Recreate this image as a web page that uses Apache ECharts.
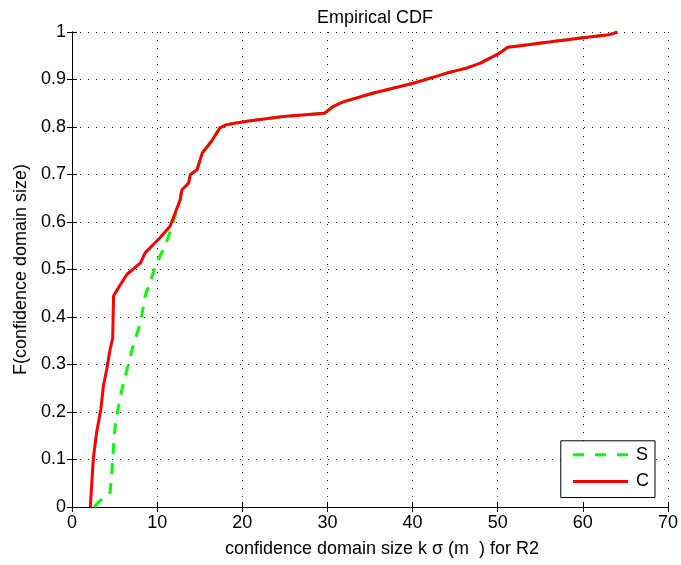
<!DOCTYPE html>
<html>
<head>
<meta charset="utf-8">
<script src="https://cdn.jsdelivr.net/npm/echarts@6/dist/echarts.min.js"></script>
<style>html,body{margin:0;padding:0;background:#fff;}#c{width:681px;height:565px;}</style>
</head>
<body>
<div id="c"></div>
<script>
var xTicks = [0, 10, 20, 30, 40, 50, 60, 70];
var yTicks = [0, 0.1, 0.2, 0.3, 0.4, 0.5, 0.6, 0.7, 0.8, 0.9, 1];

var cX = [2.15,2.40,2.54,2.89,3.39,3.69,4.08,4.48,4.78,4.88,5.47,6.46,8.05,8.59,10.33,11.52,12.11,12.71,12.91,13.70,13.90,14.69,15.29,16.38,17.37,18.16,20.54,24.80,29.66,30.65,31.84,35.31,40.07,43.94,46.32,47.90,50.18,51.17,52.17,56.03,60.00,63.07,64.06];
var cY = [0,0.073,0.108,0.157,0.206,0.255,0.29,0.332,0.356,0.444,0.462,0.49,0.514,0.535,0.567,0.591,0.619,0.647,0.668,0.682,0.70,0.71,0.745,0.77,0.798,0.805,0.812,0.822,0.829,0.843,0.853,0.871,0.892,0.913,0.924,0.934,0.955,0.968,0.970,0.979,0.988,0.994,1.0];

var sX = [2.60,3.29,4.48,4.68,4.88,5.08,5.47,5.87,6.46,7.06,7.65,8.05,8.59,9.14,9.73,10.33,10.92,11.52,12.11,12.71,12.91,13.70,13.90,14.69,15.29,16.38,17.37,18.16,20.54,24.80,29.66,30.65,31.84,35.31,40.07,43.94,46.32,47.90,50.18,51.17,52.17,56.03,60.00,63.07,64.06];
var sY = [0,0.013,0.031,0.073,0.129,0.171,0.213,0.248,0.29,0.332,0.367,0.388,0.444,0.472,0.504,0.528,0.549,0.58,0.612,0.647,0.668,0.682,0.70,0.71,0.745,0.77,0.798,0.805,0.812,0.822,0.829,0.843,0.853,0.871,0.892,0.913,0.924,0.934,0.955,0.968,0.970,0.979,0.988,0.994,1.0];

function pairs(xs, ys) { return xs.map(function (x, i) { return [x, ys[i]]; }); }

var FONT = 'Liberation Sans, Arial, sans-serif';
var FS = 18;
var chart = echarts.init(document.getElementById('c'), null, {renderer: 'canvas'});

var gridLine = {show: true, lineStyle: {color: '#222', type: [1, 7], width: 1}};
var axisLine = {show: true, lineStyle: {color: '#000', width: 1}};
var tick = {show: true, inside: true, length: 5, lineStyle: {color: '#000'}};

chart.setOption({
  animation: false,
  backgroundColor: '#fff',
  title: {
    text: 'Empirical CDF', left: 370, top: 4, textAlign: 'center',
    textStyle: {fontFamily: FONT, fontSize: FS, fontWeight: 'normal', color: '#000'}
  },
  grid: {left: 72, right: 12.5, top: 32, bottom: 58, containLabel: false},
  xAxis: [{
    type: 'value', min: 0, max: 70, interval: 10, position: 'bottom',
    name: 'confidence domain size k σ (m  ) for R2', nameLocation: 'middle', nameGap: 33,
    nameTextStyle: {fontFamily: FONT, fontSize: FS, color: '#000', padding: [0, 0, 0, 24]},
    axisLine: axisLine, axisTick: tick, splitLine: gridLine,
    axisLabel: {fontFamily: FONT, fontSize: FS, color: '#000', margin: 7,
      formatter: function (v) { return xTicks.indexOf(v) >= 0 ? String(v) : ''; }}
  }, {
    type: 'value', min: 0, max: 70, interval: 10, position: 'top',
    axisLine: axisLine, axisTick: tick, splitLine: {show: false}, axisLabel: {show: false}
  }],
  yAxis: [{
    type: 'value', min: 0, max: 1, interval: 0.1, position: 'left',
    name: 'F(confidence domain size)', nameLocation: 'middle', nameGap: 37, nameRotate: 90,
    nameTextStyle: {fontFamily: FONT, fontSize: FS, color: '#000'},
    axisLine: axisLine, axisTick: tick, splitLine: gridLine,
    axisLabel: {fontFamily: FONT, fontSize: FS, color: '#000', margin: 6,
      formatter: function (v) {
        for (var i = 0; i < yTicks.length; i++) { if (Math.abs(yTicks[i] - v) < 1e-9) return String(yTicks[i]); }
        return '';
      }}
  }, {
    type: 'value', min: 0, max: 1, interval: 0.1, position: 'right',
    axisLine: axisLine, axisTick: tick, splitLine: {show: false}, axisLabel: {show: false}
  }],
  legend: {
    orient: 'vertical', right: 26, bottom: 67.5,
    data: [
      {name: 'S', lineStyle: {width: 3, type: [11, 11]}},
      {name: 'C', lineStyle: {width: 3}}
    ],
    itemWidth: 55, itemHeight: 18, itemGap: 8.7,
    padding: [5, 6, 7, 10.7],
    borderColor: '#000', borderWidth: 1, backgroundColor: '#fff',
    itemStyle: {opacity: 0},
    textStyle: {fontFamily: FONT, fontSize: FS, color: '#000', padding: [0, 0, 0, 3]}
  },
  series: [{
    name: 'S', type: 'line', data: pairs(sX, sY), symbol: 'none', z: 2,
    itemStyle: {color: '#00ff00'},
    lineStyle: {color: '#00ff00', width: 3, type: [11, 9]}
  }, {
    name: 'C', type: 'line', data: pairs(cX, cY), symbol: 'none', z: 3,
    itemStyle: {color: '#ff0000'},
    lineStyle: {color: '#ff0000', width: 3}
  }]
});
</script>
</body>
</html>
